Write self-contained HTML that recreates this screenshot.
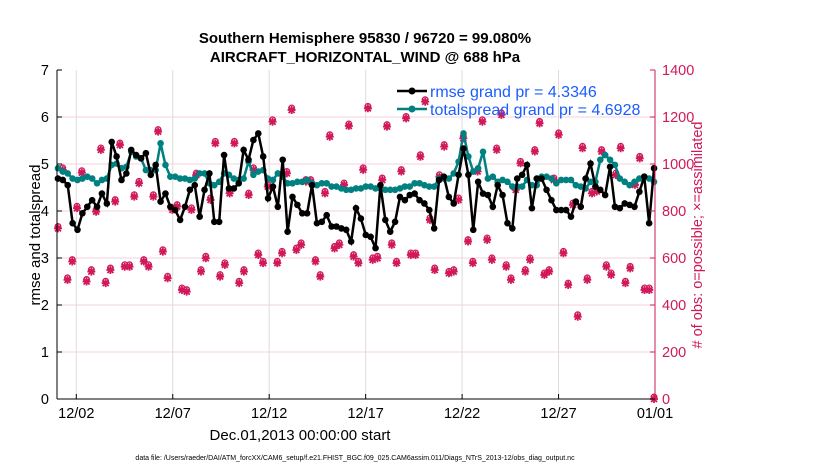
<!DOCTYPE html>
<html><head><meta charset="utf-8"><style>
body{margin:0;background:#fff;font-family:"Liberation Sans",sans-serif}
svg{display:block}
</style></head><body>
<svg id="chart" width="830" height="470" font-family="Liberation Sans, sans-serif">
<text x="365" y="43" text-anchor="middle" font-size="15" font-weight="bold">Southern Hemisphere 95830 / 96720 = 99.080%</text>
<text x="365" y="62" text-anchor="middle" font-size="15" font-weight="bold">AIRCRAFT_HORIZONTAL_WIND @ 688 hPa</text>
<g id="grid"></g><g id="marks"></g><g id="axes"></g>
<text transform="translate(40,235) rotate(-90)" text-anchor="middle" font-size="15">rmse and totalspread</text>
<text transform="translate(702,235) rotate(-90)" text-anchor="middle" font-size="14.5" fill="#d0185a"># of obs: o=possible; ×=assimilated</text>
<text x="300" y="440" text-anchor="middle" font-size="15">Dec.01,2013 00:00:00 start</text>
<text x="355" y="460" text-anchor="middle" font-size="7">data file: /Users/raeder/DAI/ATM_forcXX/CAM6_setup/f.e21.FHIST_BGC.f09_025.CAM6assim.011/Diags_NTrS_2013-12/obs_diag_output.nc</text>
<g>
<line x1="397" y1="91" x2="427" y2="91" stroke="#000" stroke-width="2.5"/><circle cx="412" cy="91" r="3.5" fill="#000"/>
<text x="430" y="97" font-size="16" fill="#1a5cff">rmse grand pr = 4.3346</text>
<line x1="397" y1="109" x2="427" y2="109" stroke="#008080" stroke-width="2.5"/><circle cx="412" cy="109" r="3.5" fill="#008080"/>
<text x="430" y="115" font-size="16" fill="#1a5cff">totalspread grand pr = 4.6928</text>
</g>
</svg>
<script>
const tickDays=[1,6,11,16,21,26,31];
const tickLabels=["12/02","12/07","12/12","12/17","12/22","12/27","01/01"];
const leftTicks=[0,1,2,3,4,5,6,7];
const rightTicks=[0,200,400,600,800,1000,1200,1400];
const rmse=[4.69,4.66,4.55,3.74,3.60,3.95,4.09,4.23,4.09,4.37,4.16,5.47,5.16,4.66,4.80,5.30,5.19,5.12,5.23,4.77,4.98,4.20,4.37,4.09,4.02,3.81,4.09,4.45,4.55,3.88,4.45,4.80,3.77,3.77,5.19,4.48,4.48,4.59,5.30,5.09,5.51,5.65,
5.16,4.27,4.52,4.09,5.09,3.56,4.30,4.13,3.95,3.95,4.55,3.74,3.77,3.91,3.67,3.67,3.63,3.60,3.35,4.06,3.84,3.49,3.45,3.21,4.55,3.81,3.56,3.77,4.30,4.23,4.34,4.37,4.23,4.16,4.02,3.63,4.66,4.73,
4.30,4.16,4.77,5.33,4.77,3.60,4.62,4.37,4.34,4.09,4.55,4.34,3.74,3.63,4.69,4.77,4.98,4.06,4.69,4.69,4.45,4.23,4.02,4.02,4.02,3.88,4.20,4.09,4.69,5.01,4.52,4.45,4.34,4.94,4.09,4.06,4.16,4.13,4.09,4.41,4.73,3.74,4.91];
const spread=[4.91,4.84,4.80,4.69,4.66,4.69,4.73,4.69,4.59,4.66,4.69,4.98,5.01,4.91,4.94,5.26,5.16,5.12,4.87,4.87,4.87,5.44,4.98,4.73,4.73,4.69,4.69,4.66,4.69,4.80,4.80,4.59,4.55,4.62,4.80,4.77,4.69,4.66,4.69,5.05,4.77,4.84,
4.87,4.69,4.66,4.80,4.73,4.59,4.59,4.62,4.62,4.66,4.59,4.55,4.59,4.59,4.52,4.52,4.48,4.45,4.45,4.48,4.48,4.52,4.52,4.48,4.48,4.45,4.45,4.45,4.48,4.52,4.52,4.59,4.59,4.55,4.52,4.52,4.69,4.69,
4.69,4.80,5.05,5.65,5.16,4.84,4.91,5.26,4.69,4.73,4.62,4.66,4.62,4.52,4.52,4.52,4.66,4.55,4.55,4.73,4.73,4.69,4.59,4.66,4.66,4.66,4.55,4.52,4.48,4.62,4.62,5.09,5.19,5.09,4.98,4.69,4.62,4.55,4.62,4.69,4.73,4.69,4.62];
const nobs=[726,975,507,585,812,963,500,542,797,1060,493,549,840,1081,563,563,861,918,585,563,861,1138,627,514,805,819,464,457,805,953,542,599,847,1088,521,571,875,1088,493,542,868,975,613,
578,904,1180,578,620,960,1230,634,656,925,925,585,521,875,1116,641,656,911,1162,606,578,975,1237,592,599,932,1159,656,578,968,1194,613,613,1031,1265,762,549,946,1074,535,542,
847,1109,670,578,968,1180,677,592,1060,1209,563,507,890,1003,542,592,1053,1173,528,542,932,1124,620,485,826,350,1067,507,875,883,1053,563,528,953,1067,493,556,911,1024,464,464,0];

const X0=57,X1=655,Y0=399,Y1=70,D0=0,D1=31;
const xs=d=>X0+(d-D0)/(D1-D0)*(X1-X0);
const yl=v=>Y0-v/7*(Y0-Y1);
const yr=v=>Y0-v/1400*(Y0-Y1);
const dayOf=(i,n)=>0.05+i*(30.9/(n-1));
const NS="http://www.w3.org/2000/svg";
function mk(tag,attrs,parent){const e=document.createElementNS(NS,tag);for(const k in attrs)e.setAttribute(k,attrs[k]);parent.appendChild(e);return e;}
const grid=document.getElementById('grid'),marks=document.getElementById('marks'),axes=document.getElementById('axes');
tickDays.forEach((d,i)=>{
  const g=mk('line',{x1:xs(d),x2:xs(d),y1:Y1,y2:Y0,stroke:'#dcdcdc','stroke-width':1},grid);
  
  
  const t=mk('text',{x:xs(d),y:Y0+19,'text-anchor':'middle','font-size':14.5},axes);
  t.textContent=tickLabels[i];
  
  
  mk('line',{x1:xs(d),x2:xs(d),y1:Y0,y2:Y0-5,stroke:'#000'},axes);
});
leftTicks.forEach(v=>{
  if(v>0&&v<7){const g=mk('line',{x1:X0,x2:X1,y1:yl(v),y2:yl(v),stroke:'#f3d3df','stroke-width':1},grid);
  
  }
  const t=mk('text',{x:X0-8,y:yl(v)+5,'text-anchor':'end','font-size':14.5},axes);
  t.textContent=v;
  
  
  mk('line',{x1:X0,x2:X0+5,y1:yl(v),y2:yl(v),stroke:'#000'},axes);
});
rightTicks.forEach(v=>{
  const t=mk('text',{x:X1+7,y:yr(v)+5,'font-size':14.5,fill:'#d0185a'},axes);
  t.textContent=v;
  
  
  mk('line',{x1:X1,x2:X1-5,y1:yr(v),y2:yr(v),stroke:'#d0185a'},axes);
});
mk('line',{x1:X0,x2:X1,y1:Y0,y2:Y0,stroke:'#000'},axes);
mk('line',{x1:X0,x2:X0,y1:Y1,y2:Y0,stroke:'#000'},axes);
mk('line',{x1:X1,x2:X1,y1:Y1,y2:Y0,stroke:'#d0185a'},axes);
nobs.forEach((v,i)=>{
  const cx=xs(dayOf(i,nobs.length)),cy=yr(v);
  const g=mk('g',{stroke:'#d0185a','stroke-width':1.3,fill:'none'},marks);
  
  
  mk('circle',{cx:cx,cy:cy-2,r:2.8},g);
  mk('path',{d:`M${cx-4} ${cy}h8M${cx} ${cy-4}v8M${cx-3} ${cy-3}l6 6M${cx+3} ${cy-3}l-6 6`,'stroke-width':1.8},g);
});
function series(vals,color,name){
  const pts=vals.map((v,i)=>[xs(dayOf(i,vals.length)),yl(v)]);
  const p=mk('polyline',{points:pts.map(p=>p.join(',')).join(' '),fill:'none',stroke:color,'stroke-width':2.5},marks);
  
  
  pts.forEach(q=>{
    const c=mk('circle',{cx:q[0],cy:q[1],r:3.3,fill:color},marks);
    
    
  });
}
series(spread,'#008080','totalspread');
series(rmse,'#000000','rmse');
</script>
</body></html>
